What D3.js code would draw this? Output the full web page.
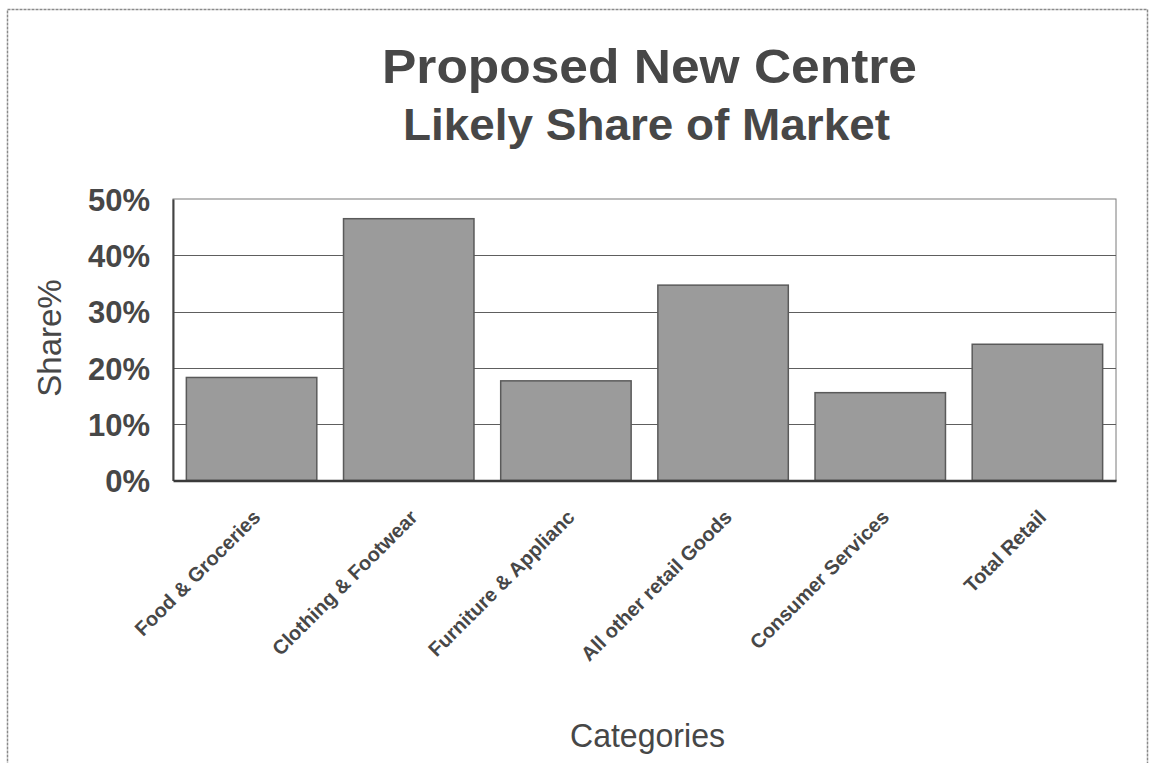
<!DOCTYPE html>
<html>
<head>
<meta charset="utf-8">
<script src="https://cdn.jsdelivr.net/npm/d3@7/dist/d3.min.js"></script>
<style>
  html, body { margin: 0; padding: 0; background: #ffffff; }
  svg { display: block; font-family: "Liberation Sans", Arial, Helvetica, sans-serif; }
</style>
</head>
<body>
<svg id="chart" width="1157" height="763"></svg>
<script>
// ---- data ----
const categories = ["Food & Groceries", "Clothing & Footwear", "Furniture & Applianc",
                    "All other retail Goods", "Consumer Services", "Total Retail"];
const shareValues = [0.183, 0.465, 0.177, 0.347, 0.156, 0.242];
const yTickValues = [0, 0.1, 0.2, 0.3, 0.4, 0.5];
const titleLines = ["Proposed New Centre", "Likely Share of Market"];
const yAxisTitle = "Share%";
const xAxisTitle = "Categories";

// ---- layout ----
const W = 1157, H = 763;
const plot = { left: 173, right: 1116, top: 199, bottom: 480.5 };
const ink = "#474747";

const svg = d3.select("#chart");

// outer frame
svg.append("rect")
  .attr("x", 7.5).attr("y", 9.5)
  .attr("width", 1140).attr("height", 800)
  .attr("fill", "none").attr("stroke", "#8a8a8a").attr("stroke-width", 1.5)
  .attr("stroke-dasharray", "3,1");

const x = d3.scaleBand()
  .domain(categories)
  .range([plot.left, plot.right])
  .paddingInner(0.17)
  .paddingOuter(0.085);

const y = d3.scaleLinear()
  .domain([0, 0.5])
  .range([plot.bottom, plot.top]);

// plot frame (top/right)
svg.append("rect")
  .attr("x", plot.left).attr("y", plot.top)
  .attr("width", plot.right - plot.left).attr("height", plot.bottom - plot.top)
  .attr("fill", "#ffffff").attr("stroke", "#7a7a7a").attr("stroke-width", 1);

// gridlines
svg.append("g")
  .selectAll("line")
  .data(yTickValues.filter(v => v > 0 && v < 0.5))
  .join("line")
  .attr("x1", plot.left).attr("x2", plot.right)
  .attr("y1", d => Math.round(y(d)) + 0.5).attr("y2", d => Math.round(y(d)) + 0.5)
  .attr("stroke", "#5e5e5e").attr("stroke-width", 1.2);

// bars
svg.append("g")
  .selectAll("rect")
  .data(categories.map((c, i) => ({ c, v: shareValues[i] })))
  .join("rect")
  .attr("x", d => x(d.c))
  .attr("y", d => y(d.v))
  .attr("width", x.bandwidth())
  .attr("height", d => plot.bottom - y(d.v))
  .attr("fill", "#9b9b9b")
  .attr("stroke", "#5a5a5a")
  .attr("stroke-width", 1.5);

// y axis
const yAxis = d3.axisLeft(y)
  .tickValues(yTickValues)
  .tickFormat(d3.format(".0%"))
  .tickSize(0)
  .tickPadding(23);
const gy = svg.append("g")
  .attr("transform", `translate(${plot.left},0)`)
  .call(yAxis);
gy.select(".domain").attr("stroke", "#444").attr("stroke-width", 2);
gy.selectAll("text")
  .attr("fill", ink)
  .attr("font-size", 31)
  .attr("font-weight", "bold")
  .attr("dy", "0.36em");

// x axis
const xAxis = d3.axisBottom(x).tickSize(0).tickPadding(0);
const gx = svg.append("g")
  .attr("transform", `translate(0,${plot.bottom})`)
  .call(xAxis);
gx.select(".domain").attr("stroke", "#3a3a3a").attr("stroke-width", 2.5);
gx.selectAll(".tick text")
  .attr("fill", ink)
  .attr("font-size", 20)
  .attr("font-weight", "bold")
  .attr("text-anchor", "end")
  .attr("x", 0).attr("y", 0).attr("dy", 0)
  .attr("transform", "translate(10,38) rotate(-45)");

// titles
svg.append("text")
  .attr("x", 649.5).attr("y", 83)
  .attr("text-anchor", "middle")
  .attr("font-size", 49).attr("font-weight", "bold").attr("fill", ink)
  .attr("textLength", 535).attr("lengthAdjust", "spacingAndGlyphs")
  .text(titleLines[0]);
svg.append("text")
  .attr("x", 646.5).attr("y", 140)
  .attr("text-anchor", "middle")
  .attr("font-size", 45).attr("font-weight", "bold").attr("fill", ink)
  .attr("textLength", 487).attr("lengthAdjust", "spacingAndGlyphs")
  .text(titleLines[1]);

// axis titles
svg.append("text")
  .attr("transform", "translate(61,338) rotate(-90)")
  .attr("text-anchor", "middle")
  .attr("font-size", 33).attr("fill", ink)
  .text(yAxisTitle);
svg.append("text")
  .attr("x", 647.5).attr("y", 747)
  .attr("text-anchor", "middle")
  .attr("font-size", 33).attr("fill", ink)
  .attr("textLength", 155).attr("lengthAdjust", "spacingAndGlyphs")
  .text(xAxisTitle);
</script>
</body>
</html>
